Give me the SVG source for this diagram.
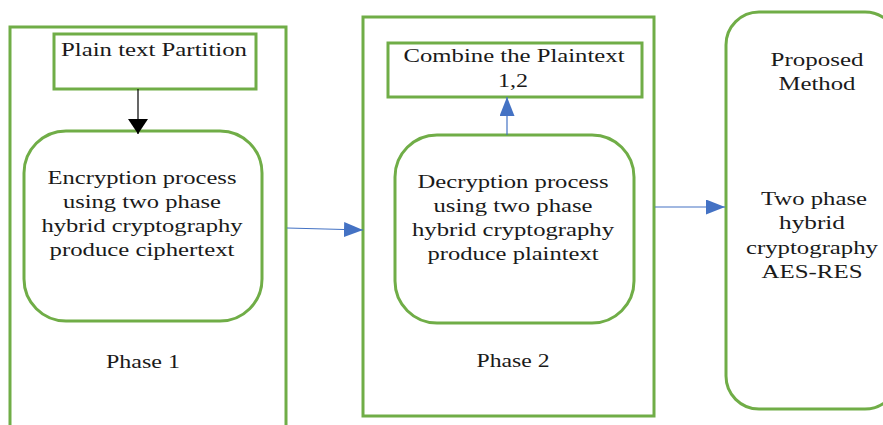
<svg xmlns="http://www.w3.org/2000/svg" width="883" height="425" viewBox="0 0 883 425">
  <defs>
    <style>
      .frame { fill: #ffffff; stroke: #70AD47; stroke-width: 3; }
      .lbl { font-family: "Liberation Serif", "Times New Roman", serif; font-size: 18px; fill: #1a1a1a; text-anchor: middle; }
      .blue { stroke: #4472C4; stroke-width: 1.2; fill: none; }
      .black { stroke: #000000; stroke-width: 1.2; fill: none; }
    </style>
    <marker id="headBlue" markerWidth="19" markerHeight="15" refX="19" refY="7.5" orient="auto" markerUnits="userSpaceOnUse">
      <path d="M0,0 L19,7.5 L0,15 Z" fill="#4472C4"/>
    </marker>
    <marker id="headBlack" markerWidth="15" markerHeight="20" refX="15" refY="10" orient="auto" markerUnits="userSpaceOnUse">
      <path d="M0,0 L15,10 L0,20 Z" fill="#000000"/>
    </marker>
  </defs>
  <rect width="883" height="425" fill="#ffffff"/>

  <!-- Phase 1 container -->
  <g id="phase1">
    <rect class="frame" x="10" y="27" width="276" height="420"/>
    <text class="lbl" x="143" y="368" textLength="74" lengthAdjust="spacingAndGlyphs">Phase 1</text>
  </g>

  <g id="partition">
    <rect class="frame" x="54" y="34" width="202" height="55"/>
    <text class="lbl" x="154" y="56" textLength="186" lengthAdjust="spacingAndGlyphs">Plain text Partition</text>
  </g>

  <g id="encryption">
    <rect class="frame" x="24" y="131" width="238" height="190" rx="42"/>
    <text class="lbl" x="142" y="184" textLength="189" lengthAdjust="spacingAndGlyphs">Encryption process</text>
    <text class="lbl" x="142" y="208" textLength="158" lengthAdjust="spacingAndGlyphs">using two phase</text>
    <text class="lbl" x="142" y="232" textLength="201" lengthAdjust="spacingAndGlyphs">hybrid cryptography</text>
    <text class="lbl" x="142" y="256" textLength="185" lengthAdjust="spacingAndGlyphs">produce ciphertext</text>
  </g>

  <!-- Phase 2 container -->
  <g id="phase2">
    <rect class="frame" x="363" y="17" width="291" height="399"/>
    <text class="lbl" x="513" y="367" textLength="73" lengthAdjust="spacingAndGlyphs">Phase 2</text>
  </g>

  <g id="combine">
    <rect class="frame" x="388" y="43" width="254" height="54"/>
    <text class="lbl" x="514" y="62" textLength="221" lengthAdjust="spacingAndGlyphs">Combine the Plaintext</text>
    <text class="lbl" x="513" y="87" textLength="30" lengthAdjust="spacingAndGlyphs">1,2</text>
  </g>

  <g id="decryption">
    <rect class="frame" x="395" y="135" width="239" height="188" rx="42"/>
    <text class="lbl" x="513" y="188" textLength="191" lengthAdjust="spacingAndGlyphs">Decryption process</text>
    <text class="lbl" x="513" y="212" textLength="159" lengthAdjust="spacingAndGlyphs">using two phase</text>
    <text class="lbl" x="513" y="236" textLength="202" lengthAdjust="spacingAndGlyphs">hybrid cryptography</text>
    <text class="lbl" x="513" y="260" textLength="171" lengthAdjust="spacingAndGlyphs">produce plaintext</text>
  </g>

  <g id="proposed">
    <rect class="frame" x="726" y="12" width="172" height="397" rx="33"/>
    <text class="lbl" x="817" y="66" textLength="93" lengthAdjust="spacingAndGlyphs">Proposed</text>
    <text class="lbl" x="817" y="90" textLength="77" lengthAdjust="spacingAndGlyphs">Method</text>
    <text class="lbl" x="814" y="205" textLength="106" lengthAdjust="spacingAndGlyphs">Two phase</text>
    <text class="lbl" x="812" y="229" textLength="66" lengthAdjust="spacingAndGlyphs">hybrid</text>
    <text class="lbl" x="812" y="254" textLength="132" lengthAdjust="spacingAndGlyphs">cryptography</text>
    <text class="lbl" x="812" y="278" textLength="101" lengthAdjust="spacingAndGlyphs">AES-RES</text>
  </g>

  <!-- Connectors -->
  <g id="connectors">
    <line class="black" x1="138" y1="89" x2="138" y2="134" marker-end="url(#headBlack)"/>
    <line class="blue" x1="287" y1="228" x2="363" y2="230" marker-end="url(#headBlue)"/>
    <line class="blue" x1="507" y1="135" x2="507" y2="97" marker-end="url(#headBlue)"/>
    <line class="blue" x1="655" y1="207" x2="725" y2="207" marker-end="url(#headBlue)"/>
  </g>
</svg>
